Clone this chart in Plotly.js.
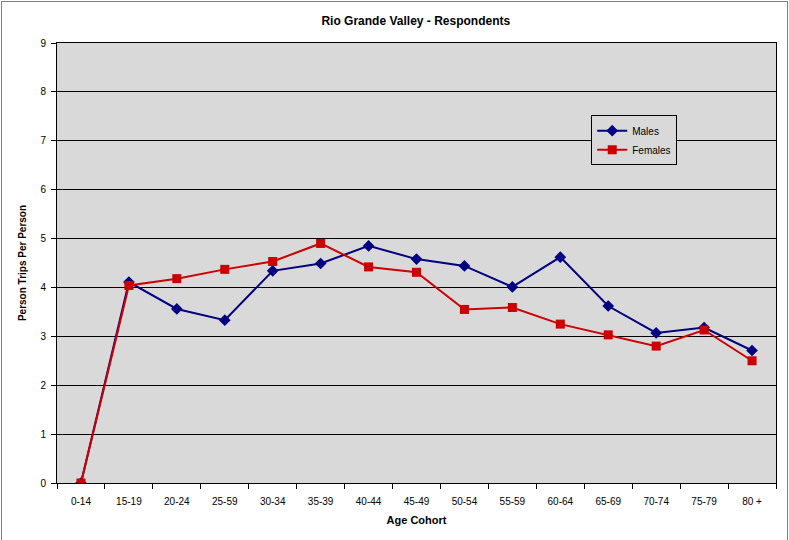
<!DOCTYPE html>
<html>
<head>
<meta charset="utf-8">
<script src="https://cdn.plot.ly/plotly-3.0.1.min.js"></script>
<style>
  html, body { margin: 0; padding: 0; background: #fff; }
  #wrap { position: relative; width: 789px; height: 540px; }
  #chart { width: 789px; height: 540px; }
  #frame { position: absolute; left: 1px; top: 1px; width: 785px; height: 545px; border: 1px solid #808080; pointer-events: none; }
</style>
</head>
<body>
<div id="wrap">
  <div id="chart"></div>
  <div id="frame"></div>
</div>
<script>
const categories = ["0-14", "15-19", "20-24", "25-59", "30-34", "35-39", "40-44", "45-49", "50-54", "55-59", "60-64", "65-69", "70-74", "75-79", "80 +"];
const males   = [0, 4.11, 3.56, 3.33, 4.34, 4.49, 4.85, 4.58, 4.44, 4.01, 4.62, 3.62, 3.07, 3.18, 2.71];
const females = [0, 4.04, 4.18, 4.37, 4.53, 4.90, 4.42, 4.31, 3.55, 3.59, 3.25, 3.03, 2.80, 3.13, 2.50];
const yTicks = [0, 1, 2, 3, 4, 5, 6, 7, 8, 9];

const font = "Liberation Sans, Arial, sans-serif";

const traces = [
  {
    x: categories, y: males, name: "Males", type: "scatter", mode: "lines+markers",
    line: { color: "#000080", width: 2 },
    marker: { symbol: "diamond", size: 9, color: "#000080" }
  },
  {
    x: categories, y: females, name: "Females", type: "scatter", mode: "lines+markers",
    line: { color: "#cc0000", width: 2 },
    marker: { symbol: "square", size: 9, color: "#cc0000" }
  }
];

const layout = {
  width: 789, height: 540,
  margin: { l: 57, r: 13, t: 43, b: 57 },
  paper_bgcolor: "#ffffff",
  plot_bgcolor: "#d9d9d9",
  font: { family: font, size: 10, color: "#000" },
  title: {
    text: "<b>Rio Grande Valley - Respondents</b>",
    font: { family: font, size: 12, color: "#000" },
    x: 0.527, xanchor: "center", y: 0.961, yanchor: "middle"
  },
  showlegend: true,
  legend: {
    x: 0.743, y: 0.836, xanchor: "left", yanchor: "top",
    bgcolor: "#d9d9d9", bordercolor: "#000", borderwidth: 1,
    font: { family: font, size: 10, color: "#000" },
    tracegroupgap: 0, itemwidth: 30
  },
  xaxis: {
    type: "category",
    categoryorder: "array", categoryarray: categories,
    range: [-0.5, 14.5],
    showline: true, linecolor: "#000", linewidth: 1, mirror: true,
    ticks: "outside", tickson: "boundaries", ticklen: 5, tickcolor: "#000",
    ticklabelstandoff: 9,
    showgrid: false, zeroline: false,
    tickfont: { family: font, size: 10, color: "#000" },
    title: { text: "<b>Age Cohort</b>", font: { family: font, size: 11, color: "#000" }, standoff: 10 }
  },
  yaxis: {
    range: [0, 9], tickvals: yTicks,
    showline: true, linecolor: "#000", linewidth: 1, mirror: true,
    ticks: "outside", ticklen: 5, tickcolor: "#000",
    ticklabelstandoff: 3,
    showgrid: true, gridcolor: "#000", gridwidth: 1, zeroline: false,
    tickfont: { family: font, size: 10, color: "#000" },
    title: { text: "<b>Person Trips Per Person</b>", font: { family: font, size: 10, color: "#000" }, standoff: 11 }
  }
};

Plotly.newPlot("chart", traces, layout, { displayModeBar: false, staticPlot: true });
</script>
</body>
</html>
